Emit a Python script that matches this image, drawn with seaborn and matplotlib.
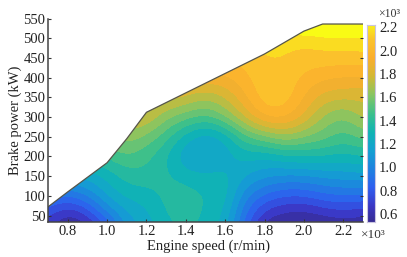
import numpy as np
import matplotlib
matplotlib.use("Agg")
import matplotlib.pyplot as plt
from matplotlib.colors import BoundaryNorm
from matplotlib.patches import Polygon
import seaborn as sns

speed = [0.7,0.8,0.9,1.0,1.1,1.2,1.3,1.4,1.5,1.6,1.7,1.8,1.9,2.0,2.1,2.2,2.3]
power = [0,50,100,150,200,250,300,350,400,450,500,550]
fuel = [
 [.67,.52,.55,.69,1.08,1.15,1.26,1.30,1.28,1.19,.82,.55,.50,.49,.50,.52,.53],
 [.75,.60,.72,.95,1.12,1.20,1.30,1.35,1.28,1.22,.90,.68,.62,.60,.65,.68,.65],
 [.95,.90,.98,1.16,1.25,1.25,1.33,1.36,1.30,1.28,1.00,.88,.82,.82,.88,.90,.88],
 [1.12,1.15,1.18,1.24,1.34,1.36,1.32,1.26,1.23,1.26,1.15,1.08,1.05,1.05,1.08,1.10,1.12],
 [1.30,1.30,1.32,1.40,1.46,1.40,1.30,1.13,1.13,1.16,1.25,1.22,1.28,1.30,1.30,1.27,1.30],
 [1.45,1.45,1.48,1.52,1.60,1.52,1.42,1.25,1.14,1.22,1.45,1.52,1.62,1.55,1.50,1.42,1.50],
 [1.60,1.60,1.62,1.65,1.70,1.72,1.55,1.50,1.44,1.55,1.72,1.90,1.90,1.78,1.60,1.52,1.65],
 [1.72,1.72,1.72,1.75,1.78,1.78,1.75,1.70,1.63,1.70,1.85,2.00,2.00,1.86,1.74,1.72,1.72],
 [1.85,1.85,1.85,1.85,1.85,1.85,1.85,1.85,1.85,1.85,1.92,2.00,2.00,1.92,1.88,1.86,1.85],
 [1.95,1.95,1.95,1.95,1.95,1.95,1.95,1.95,1.95,1.95,1.97,2.02,2.02,1.99,1.99,1.99,2.00],
 [2.05,2.05,2.05,2.05,2.05,2.05,2.05,2.05,2.05,2.05,2.05,2.05,2.05,2.04,2.08,2.08,2.08],
 [2.30,2.30,2.30,2.30,2.30,2.30,2.30,2.30,2.30,2.30,2.30,2.30,2.30,2.30,2.30,2.30,2.30],
]
edge_speed = [0.7,0.8,1.0,1.1,1.2,1.5,1.8,2.0,2.095,2.3]
edge_power = [72,110,184,245,312,386,460,518,536,536]
x_ticks = [0.8,1.0,1.2,1.4,1.6,1.8,2.0,2.2]
y_ticks = [50,100,150,200,250,300,350,400,450,500,550]
cbar_ticks = [0.6,0.8,1.0,1.2,1.4,1.6,1.8,2.0,2.2]
parula = ["#352a87","#3b36c4","#2f5ff0","#1f82e0","#14a0d2","#10b4b4","#3cc08c","#86c664","#d2b936","#fbae2e","#fbc42c","#f9fb15"]

sns.set_theme(style="ticks")
plt.rcParams['font.family'] = ['Liberation Serif', 'DejaVu Serif']
cmap = sns.blend_palette(parula, as_cmap=True)

fig = plt.figure(figsize=(4.07, 2.57), dpi=100)
W, H = 407, 257
ax = fig.add_axes([48/W, 1-222/H, 315/W, 203.5/H])
cax = fig.add_axes([367/W, 1-222/H, 8/W, 197/H])

levels = np.arange(0.50, 2.26, 0.08)
norm = BoundaryNorm(levels, cmap.N, clip=True)
half_x = (speed[1] - speed[0]) / 2
half_y = (power[1] - power[0]) / 2
im = ax.imshow(np.array(fuel), origin="lower", aspect="auto", cmap=cmap, norm=norm,
               interpolation="bicubic", interpolation_stage="data",
               extent=[speed[0]-half_x, speed[-1]+half_x, power[0]-half_y, power[-1]+half_y])
poly_x = edge_speed + [2.3, 0.7]
poly_y = edge_power + [30, 30]
clip = Polygon(np.column_stack([poly_x, poly_y]), closed=True, transform=ax.transData, facecolor="none", edgecolor="none")
ax.add_patch(clip)
im.set_clip_path(clip)
ax.plot(edge_speed, edge_power, color="#55554a", lw=0.9)

ax.set_xlim(0.7, 2.3)
ax.set_ylim(33.7, 550)
ax.set_xticks(x_ticks, [f"{v:.1f}" for v in x_ticks])
ax.set_yticks(y_ticks)
ax.tick_params(direction="in", length=2.5, width=0.8, labelsize=10.5, color="#333333", labelcolor="#222222", pad=2, right=True)
ax.yaxis.get_major_ticks()[-1].tick2line.set_visible(False)
sns.despine(ax=ax, top=True, right=False)
for side in ("left", "bottom"):
    ax.spines[side].set_linewidth(1.1)
    ax.spines[side].set_color("#444444")
ax.spines["right"].set_visible(False)
ax.set_xlabel("Engine speed (r/min)", fontsize=10.5, color="#222222", labelpad=1, x=0.51)
ax.set_ylabel("Brake power (kW)", fontsize=10.5, color="#222222", labelpad=1)
ax.patch.set_alpha(0)

grad = np.linspace(0.53, 2.22, 256).reshape(-1, 1)
cax.imshow(grad, origin="lower", aspect="auto", cmap=cmap, extent=[0, 1, 0.53, 2.22], vmin=0.50, vmax=2.26)
cax.set_xticks([])
cax.yaxis.tick_right()
cax.set_yticks(cbar_ticks, [f"{v:.1f}" for v in cbar_ticks])
cax.tick_params(length=0, labelsize=10.5, labelcolor="#222222", pad=3)
for s in cax.spines.values():
    s.set_color("#c9c4e0")
    s.set_linewidth(0.8)

fig.text(378/W, 1-17/H, "×10³", fontsize=8.5, color="#333333", ha="left")
fig.text(361/W, 1-238/H, "×10³", fontsize=9.5, color="#333333", ha="left")
fig.savefig("out.png", dpi=100)
